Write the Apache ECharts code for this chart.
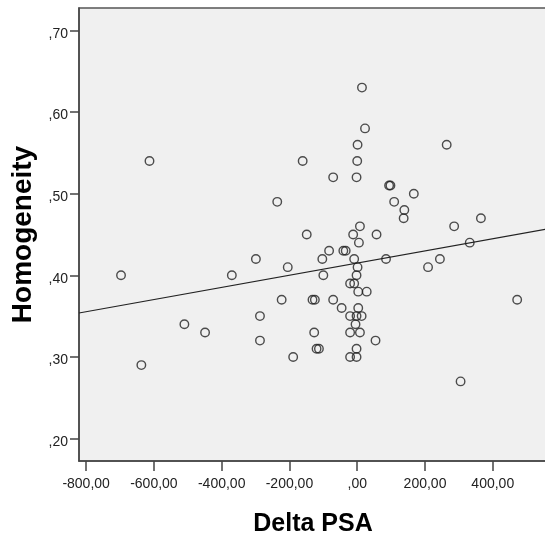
<!DOCTYPE html>
<html>
<head>
<meta charset="utf-8">
<script src="https://cdn.jsdelivr.net/npm/echarts@6/dist/echarts.min.js"></script>
<style>
  html, body { margin: 0; padding: 0; background: #ffffff; }
  #chart { width: 545px; height: 534px; }
</style>
</head>
<body>
<div id="chart"></div>
<script>
// Delta PSA (x) and Homogeneity (y) for each case
const deltaPSA = [
  -697, -613, -637, -510, -449, -370, -299, -287, -287, -236,
  -223, -205, -189, -161, -149, -132, -125, -127, -120, -113,
  -103, -100, -83, -71, -71, -46, -41, -34, -21, -21,
  -21, -21, -12, -9, -9, -5, -2, -2, -2, -2,
  -2, 0, 1, 1, 3, 3, 5, 8, 8, 13,
  14, 23, 28, 54, 57, 85, 94, 98, 109, 137,
  139, 167, 209, 244, 264, 286, 305, 332, 365, 472
];
const homogeneity = [
  0.40, 0.54, 0.29, 0.34, 0.33, 0.40, 0.42, 0.35, 0.32, 0.49,
  0.37, 0.41, 0.30, 0.54, 0.45, 0.37, 0.37, 0.33, 0.31, 0.31,
  0.42, 0.40, 0.43, 0.52, 0.37, 0.36, 0.43, 0.43, 0.39, 0.35,
  0.33, 0.30, 0.45, 0.42, 0.39, 0.34, 0.52, 0.40, 0.35, 0.31,
  0.30, 0.54, 0.56, 0.41, 0.38, 0.36, 0.44, 0.46, 0.33, 0.35,
  0.63, 0.58, 0.38, 0.32, 0.45, 0.42, 0.51, 0.51, 0.49, 0.47,
  0.48, 0.50, 0.41, 0.42, 0.56, 0.46, 0.27, 0.44, 0.47, 0.37
];

// Axis ticks
const xTicks = [-800, -600, -400, -200, 0, 200, 400];
const yTicks = [0.2, 0.3, 0.4, 0.5, 0.6, 0.7];

// Axis ranges
const xMin = -821, xMax = 560;
const yMin = 0.1725, yMax = 0.7275;

const FONT = '"Liberation Sans", Arial, sans-serif';

// Comma decimals without a leading zero: ",70", "-800,00", ",00"
function fmt(v) {
  return v.toFixed(2).replace('.', ',').replace(/^(-?)0,/, '$1,');
}

// Ordinary least squares fit line
function fitLine(xs, ys) {
  const n = xs.length;
  let sx = 0, sy = 0;
  for (let i = 0; i < n; i++) { sx += xs[i]; sy += ys[i]; }
  const mx = sx / n, my = sy / n;
  let sxy = 0, sxx = 0;
  for (let i = 0; i < n; i++) {
    sxy += (xs[i] - mx) * (ys[i] - my);
    sxx += (xs[i] - mx) * (xs[i] - mx);
  }
  const b = sxy / sxx;
  const a = my - b * mx;
  return { a, b };
}

const fit = fitLine(deltaPSA, homogeneity);
const points = deltaPSA.map((x, i) => [x, homogeneity[i]]);
const lineData = [[xMin, fit.a + fit.b * xMin], [xMax, fit.a + fit.b * xMax]];

const chart = echarts.init(document.getElementById('chart'), null, { renderer: 'canvas' });
chart.setOption({
  animation: false,
  backgroundColor: '#ffffff',
  grid: {
    left: 79, right: -2, top: 8, bottom: 73,
    outerBoundsMode: 'none',
    containLabel: false,
    show: true,
    backgroundColor: '#f0f0f0',
    borderColor: '#555555',
    borderWidth: 1.5
  },
  xAxis: {
    type: 'value',
    min: xMin, max: xMax,
    name: 'Delta PSA',
    nameLocation: 'middle',
    nameGap: 51,
    nameTextStyle: { fontFamily: FONT, fontWeight: 'bold', fontSize: 25, color: '#000' },
    axisLine: { show: true, onZero: false, lineStyle: { color: '#444', width: 1.5 } },
    axisTick: { show: true, length: 10, lineStyle: { color: '#444', width: 1.5 }, customValues: xTicks },
    axisLabel: {
      customValues: xTicks,
      formatter: fmt,
      margin: 16,
      fontFamily: FONT, fontSize: 14, color: '#222'
    },
    splitLine: { show: false }
  },
  yAxis: {
    type: 'value',
    min: yMin, max: yMax,
    name: 'Homogeneity',
    nameLocation: 'middle',
    nameGap: 38,
    nameTextStyle: { fontFamily: FONT, fontWeight: 'bold', fontSize: 28, color: '#000' },
    axisLine: { show: true, onZero: false, lineStyle: { color: '#444', width: 1.5 } },
    axisTick: { show: true, length: 9, lineStyle: { color: '#444', width: 1.5 }, customValues: yTicks },
    axisLabel: {
      customValues: yTicks,
      formatter: fmt,
      margin: 11,
      verticalAlign: 'top',
      lineHeight: 7,
      fontFamily: FONT, fontSize: 14, color: '#222'
    },
    splitLine: { show: false }
  },
  series: [
    {
      type: 'line',
      data: lineData,
      symbol: 'none',
      silent: true,
      lineStyle: { color: '#222', width: 1.2 },
      z: 2
    },
    {
      type: 'scatter',
      data: points,
      symbol: 'circle',
      symbolSize: 8.5,
      itemStyle: { color: 'rgba(0,0,0,0)', borderColor: '#222', borderWidth: 1.4 },
      z: 3
    }
  ]
});
</script>
</body>
</html>
